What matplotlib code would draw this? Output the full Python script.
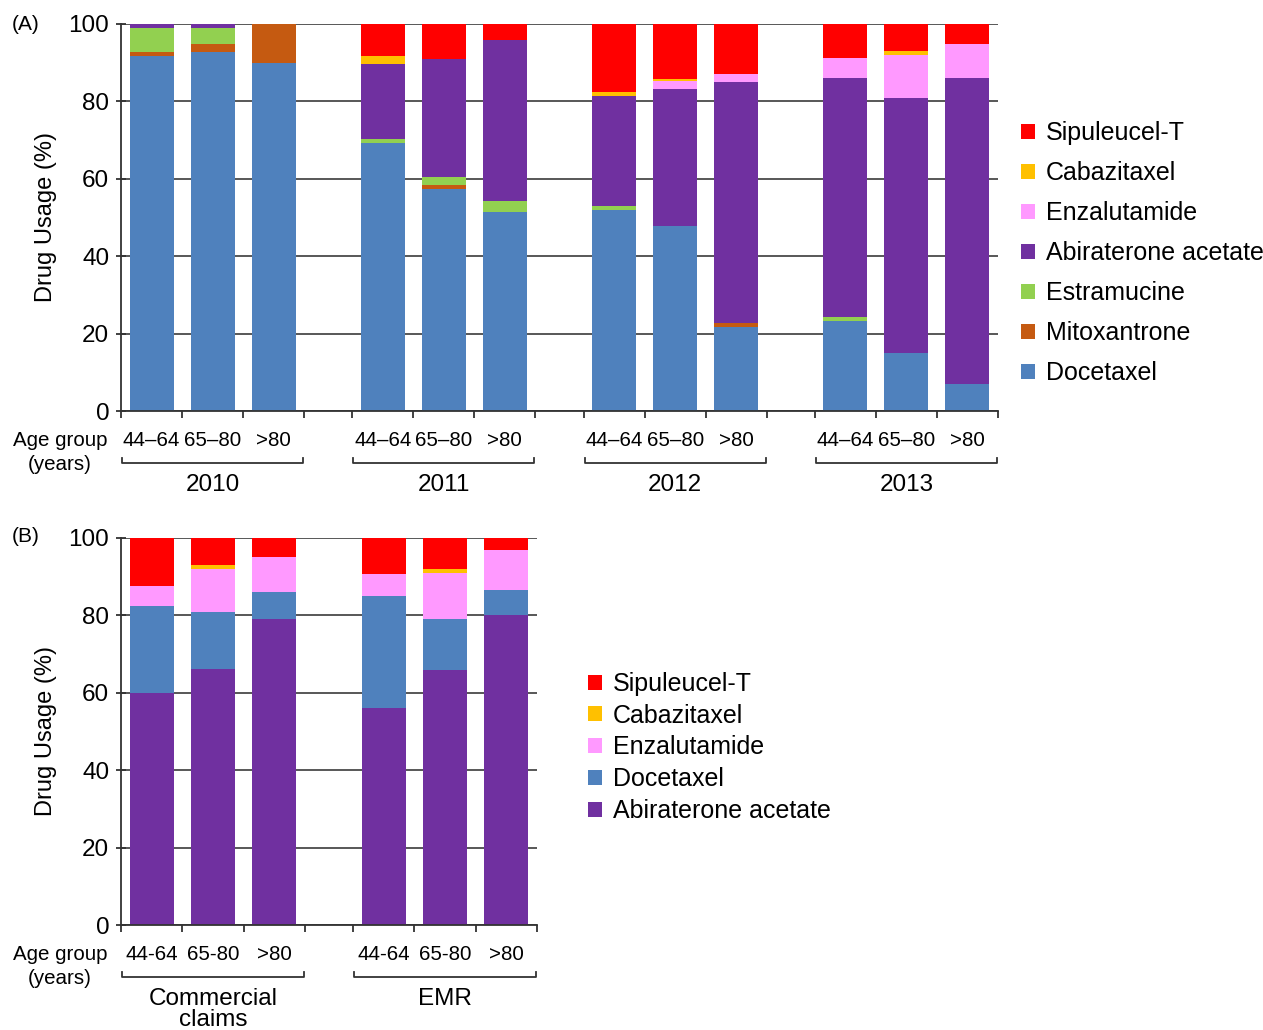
import numpy as np
import matplotlib.pyplot as plt
from matplotlib.patches import Patch
from matplotlib.transforms import blended_transform_factory

plt.rcParams['font.family'] = ['Liberation Sans', 'DejaVu Sans']

# colours used for each drug
C_SIP = '#FF0000'
C_CAB = '#FFC000'
C_ENZ = '#FF99FF'
C_ABI = '#7030A0'
C_EST = '#92D050'
C_MIT = '#C55A11'
C_DOC = '#4F81BD'

# ---- panel A: usage by year and age group (%)
years = ['2010', '2011', '2012', '2013']
ages_a = ['44–64', '65–80', '>80']
docetaxel_a = [91.8, 92.8, 90.0, 69.3, 57.3, 51.3, 51.9, 47.8, 21.7, 23.3, 14.9, 7.0]
mitoxantrone_a = [1.0, 2.0, 10.0, 0, 1.1, 0, 0, 0, 1.1, 0, 0, 0]
estramucine_a = [6.1, 4.2, 0, 1.0, 2.0, 3.0, 1.1, 0, 0, 1.1, 0, 0]
abiraterone_a = [1.1, 1.0, 0, 19.4, 30.6, 41.6, 28.5, 35.4, 62.3, 61.6, 65.9, 79.0]
enzalutamide_a = [0, 0, 0, 0, 0, 0, 0, 2.1, 1.9, 5.1, 11.2, 8.8]
cabazitaxel_a = [0, 0, 0, 2.0, 0, 0, 1.0, 0.4, 0, 0, 1.0, 0]
sipuleucel_a = [0, 0, 0, 8.3, 9.0, 4.1, 17.5, 14.3, 13.0, 8.9, 7.0, 5.2]

# ---- panel B: usage by data source and age group (%)
sources = ['Commercial\nclaims', 'EMR']
ages_b = ['44-64', '65-80', '>80']
abiraterone_b = [59.9, 66.1, 79.1, 56.2, 65.9, 80.1]
docetaxel_b = [22.6, 14.9, 6.9, 28.9, 13.1, 6.5]
enzalutamide_b = [5.2, 11.0, 9.0, 5.7, 11.9, 10.3]
cabazitaxel_b = [0, 1.0, 0, 0, 1.0, 0]
sipuleucel_b = [12.3, 7.0, 5.0, 9.2, 8.1, 3.1]

W, H = 1263, 1030
GROUP_STEP = 3.787
BAR_W = 0.72
AX_H_PX = 387.0


def fx(px):
    return px / W


def fy(py):
    return 1 - py / H


def draw_panel(ax, groups, ages, series, legend_names, legend_xy, legend_space):
    n = len(groups)
    x = np.array([g * GROUP_STEP + 0.5 + i for g in range(n) for i in range(len(ages))])
    bottom = np.zeros(len(x))
    handles = {}
    for name, vals, col in series:
        vals = np.array(vals, dtype=float)
        ax.bar(x, vals, BAR_W, bottom=bottom, color=col, linewidth=0, zorder=2)
        bottom += vals
        handles[name] = Patch(facecolor=col, edgecolor='none')

    ax.set_xlim(0, (n - 1) * GROUP_STEP + 3)
    ax.set_ylim(0, 100)
    ax.set_yticks(range(0, 101, 20))
    ax.set_axisbelow(True)
    ax.grid(axis='y', color='#4a4a4a', linewidth=1.3, zorder=0)
    for s in ['top', 'right']:
        ax.spines[s].set_visible(False)
    for s in ['left', 'bottom']:
        ax.spines[s].set_color('#333333')
        ax.spines[s].set_linewidth(1.3)
    ax.tick_params(axis='y', direction='inout', length=7, width=1.3,
                   color='#333333', pad=5, labelsize=17.5)
    ticks = [g * GROUP_STEP + k for g in range(n) for k in range(4)]
    ax.set_xticks(ticks)
    ax.set_xticklabels([])
    ax.tick_params(axis='x', direction='out', length=5, width=1.3, color='#333333')
    ax.set_ylabel('Drug Usage (%)', fontsize=17, labelpad=8)

    tr = blended_transform_factory(ax.transData, ax.transAxes)
    for xi, lab in zip(x, ages * n):
        ax.text(xi, -29 / AX_H_PX, lab, transform=tr, ha='center', va='center',
                fontsize=14.8, clip_on=False)
    yb = -52 / AX_H_PX
    up = 5 / AX_H_PX
    for g, name in enumerate(groups):
        x0 = g * GROUP_STEP + 0.02
        x1 = g * GROUP_STEP + 2.98
        ax.plot([x0, x0, x1, x1], [yb + up, yb, yb, yb + up], color='#333333',
                lw=1.3, transform=tr, clip_on=False)
        ax.text((x0 + x1) / 2, -63 / AX_H_PX, name, transform=tr, ha='center',
                va='top', fontsize=17.5, linespacing=0.95, clip_on=False)

    leg = ax.legend([handles[nm] for nm in legend_names], legend_names,
                    loc='upper left', bbox_to_anchor=legend_xy,
                    bbox_transform=ax.figure.transFigure, frameon=False,
                    fontsize=18, handlelength=0.55, handleheight=0.55,
                    handletextpad=0.45, labelspacing=legend_space,
                    borderpad=0, borderaxespad=0)
    return leg


fig = plt.figure(figsize=(W / 100, H / 100), dpi=100)

ax_a = fig.add_axes([fx(121), fy(411), fx(998) - fx(121), AX_H_PX / H])
series_a = [
    ('Docetaxel', docetaxel_a, C_DOC),
    ('Mitoxantrone', mitoxantrone_a, C_MIT),
    ('Estramucine', estramucine_a, C_EST),
    ('Abiraterone acetate', abiraterone_a, C_ABI),
    ('Enzalutamide', enzalutamide_a, C_ENZ),
    ('Cabazitaxel', cabazitaxel_a, C_CAB),
    ('Sipuleucel-T', sipuleucel_a, C_SIP),
]
draw_panel(ax_a, years, ages_a, series_a,
           [s[0] for s in series_a][::-1], (fx(1021), fy(121)), 0.64)

ax_b = fig.add_axes([fx(121), fy(925), fx(537) - fx(121), AX_H_PX / H])
series_b = [
    ('Abiraterone acetate', abiraterone_b, C_ABI),
    ('Docetaxel', docetaxel_b, C_DOC),
    ('Enzalutamide', enzalutamide_b, C_ENZ),
    ('Cabazitaxel', cabazitaxel_b, C_CAB),
    ('Sipuleucel-T', sipuleucel_b, C_SIP),
]
draw_panel(ax_b, sources, ages_b, series_b,
           [s[0] for s in series_b][::-1], (fx(588), fy(672)), 0.31)

# panel tags and the shared row caption
fig.text(fx(12), fy(24), '(A)', fontsize=15, ha='left', va='center')
fig.text(fx(12), fy(537), '(B)', fontsize=15, ha='left', va='center')
for top in (411, 925):
    fig.text(fx(60), fy(top + 29), 'Age group', fontsize=14.8, ha='center', va='center')
    fig.text(fx(60), fy(top + 53), '(years)', fontsize=14.8, ha='center', va='center')

fig.savefig('out.png', dpi=100)
